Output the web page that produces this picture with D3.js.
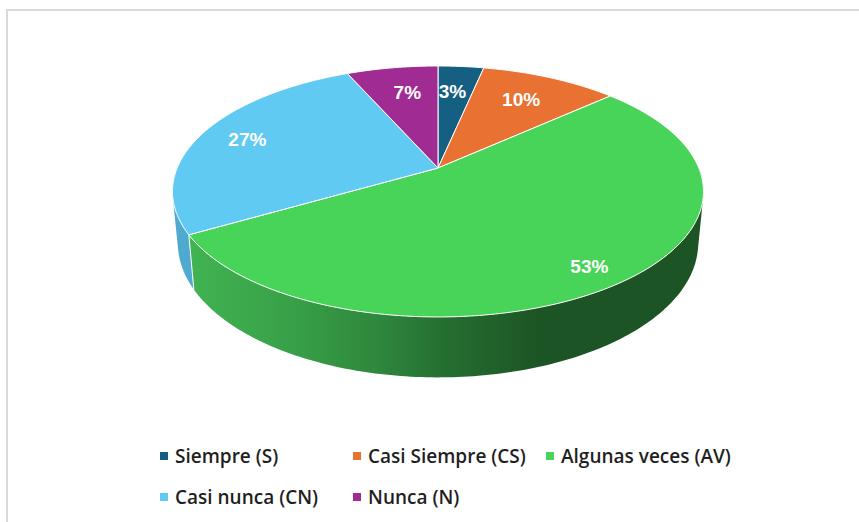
<!DOCTYPE html>
<html>
<head>
<meta charset="utf-8">
<script src="https://cdn.jsdelivr.net/npm/d3@7"></script>
<style>
  html, body { margin: 0; padding: 0; background: #fff; }
</style>
</head>
<body>
<div id="container"></div>
<script>
// answers out of 30 people, the percent labels come from these
let categories = ["Siempre (S)", "Casi Siempre (CS)", "Algunas veces (AV)", "Casi nunca (CN)", "Nunca (N)"];
let counts = [1, 3, 16, 8, 2];

let topColors = ["#156082", "#E97132", "#47D459", "#60CAF3", "#A02B93"];
let wallColors = ["#156082", "#E97132", "url(#greenWall)", "#50A9CF", "#A02B93"];
let labelRadius = [0.725, 0.73, 0.869, 0.80, 0.724];
let labelNudge = [-3, -2, -2, -1, 4];

let w = 859;
let h = 522;

let viz = d3.select("#container")
  .append("svg")
    .attr("width", w)
    .attr("height", h)
    .style("display", "block")
    .style("background-color", "#fff")
;

// chart frame, only top and left show in the crop
viz.append("path")
    .attr("d", "M7,522 V10 H859")
    .attr("fill", "none")
    .attr("stroke", "#d9d9d9")
    .attr("stroke-width", 2)
;

// perspective of the pie top
let cx = 438;
let cy = 168;
let scaleX = 260.8;
let scaleY = 121.1;
let tilt = 0.187;

// the lower rim is the same circle moved down
let lowerCy = 218;
let lowerX = 0.98;
let lowerY = 1.07;

function upper(angle, r = 1){
  let X = r * Math.sin(angle);
  let Y = -r * Math.cos(angle);
  let d = 1 - tilt * Y;
  return [cx + scaleX * X / d, cy + scaleY * Y / d];
}

function lower(angle){
  let p = upper(angle);
  return [cx + (p[0] - cx) * lowerX, lowerCy + (p[1] - cy) * lowerY];
}

let pie = d3.pie().sort(null).value(d => d);
let slices = pie(counts);
let total = d3.sum(counts);
let pct = d3.format(".0%");
let line = d3.line();

// gradient on the green side wall
let defs = viz.append("defs");
let grad = defs.append("linearGradient")
    .attr("id", "greenWall")
    .attr("gradientUnits", "userSpaceOnUse")
    .attr("x1", 190).attr("x2", 704)
    .attr("y1", 0).attr("y2", 0)
;
grad.selectAll("stop")
  .data([[0, "#41B351"], [0.2, "#38A048"], [0.36, "#2F883D"], [0.49, "#256F31"], [0.68, "#1D5425"], [1, "#1D5425"]])
  .enter().append("stop")
    .attr("offset", d => d[0])
    .attr("stop-color", d => d[1])
;

// side walls, only the part of the rim facing us
let frontStart = Math.PI / 2;
let frontEnd = Math.PI * 1.5;

function wallPath(d){
  let a0 = Math.max(d.startAngle, frontStart);
  let a1 = Math.min(d.endAngle, frontEnd);
  if(a1 <= a0) return "";
  let n = Math.ceil((a1 - a0) * 60);
  let stepA = (a1 - a0) / n;
  // one quad per step, the hull keeps them all wound the same way so they
  // do not cancel near the tangent edges on left and right
  return d3.range(n).map(i => {
    let s = a0 + i * stepA;
    let e = s + stepA;
    return line(d3.polygonHull([upper(s), upper(e), lower(e), lower(s)])) + "Z";
  }).join("");
}

viz.selectAll(".wall").data(slices).enter()
  .append("path")
    .attr("class", "wall")
    .attr("d", wallPath)
    .attr("fill", (d, i) => wallColors[i])
;

// white edge where blue and green walls meet
viz.selectAll(".wallEdge").data(slices.filter(d => d.startAngle > frontStart && d.startAngle < frontEnd)).enter()
  .append("path")
    .attr("class", "wallEdge")
    .attr("d", d => line([upper(d.startAngle), lower(d.startAngle)]))
    .attr("stroke", "#fff")
    .attr("stroke-width", 1)
    .attr("fill", "none")
;

// top of the pie
function topPath(d){
  let n = Math.ceil((d.endAngle - d.startAngle) * 60);
  let pts = d3.range(n + 1).map(i => upper(d.startAngle + (d.endAngle - d.startAngle) * i / n));
  return line([[cx, cy]].concat(pts)) + "Z";
}

viz.selectAll(".slice").data(slices).enter()
  .append("path")
    .attr("class", "slice")
    .attr("d", topPath)
    .attr("fill", (d, i) => topColors[i])
    .attr("stroke", "#fff")
    .attr("stroke-width", 1)
    .attr("stroke-linejoin", "round")
;

// percent labels
viz.selectAll(".pct").data(slices).enter()
  .append("text")
    .attr("class", "pct")
    .attr("x", (d, i) => upper((d.startAngle + d.endAngle) / 2, labelRadius[i])[0] + labelNudge[i])
    .attr("y", (d, i) => upper((d.startAngle + d.endAngle) / 2, labelRadius[i])[1])
    .attr("text-anchor", "middle")
    .attr("dominant-baseline", "central")
    .attr("font-family", "'Liberation Sans', Arial, sans-serif")
    .attr("font-weight", "bold")
    .attr("font-size", 19)
    .attr("fill", "#fff")
    .text(d => pct(d.value / total))
;

// legend, three on the first row and two on the second
let legendX = d3.scalePoint().domain([0, 1, 2]).range([160, 546]);
let legendY = d3.scalePoint().domain([0, 1]).range([456, 497]);

let legend = viz.selectAll(".legend").data(categories).enter()
  .append("g")
    .attr("class", "legend")
    .attr("transform", (d, i) => "translate(" + legendX(i % 3) + "," + legendY(Math.floor(i / 3)) + ")")
;
legend.append("rect")
    .attr("x", 0)
    .attr("y", -4)
    .attr("width", 8)
    .attr("height", 8)
    .attr("fill", (d, i) => topColors[i])
;
legend.append("text")
    .attr("x", 15)
    .attr("y", 0)
    .attr("dominant-baseline", "central")
    .attr("font-family", "'Open Sans', sans-serif")
    .attr("font-weight", 600)
    .attr("font-size", 19)
    .attr("fill", "#1f1f1f")
    .text(d => d)
;
</script>
</body>
</html>
